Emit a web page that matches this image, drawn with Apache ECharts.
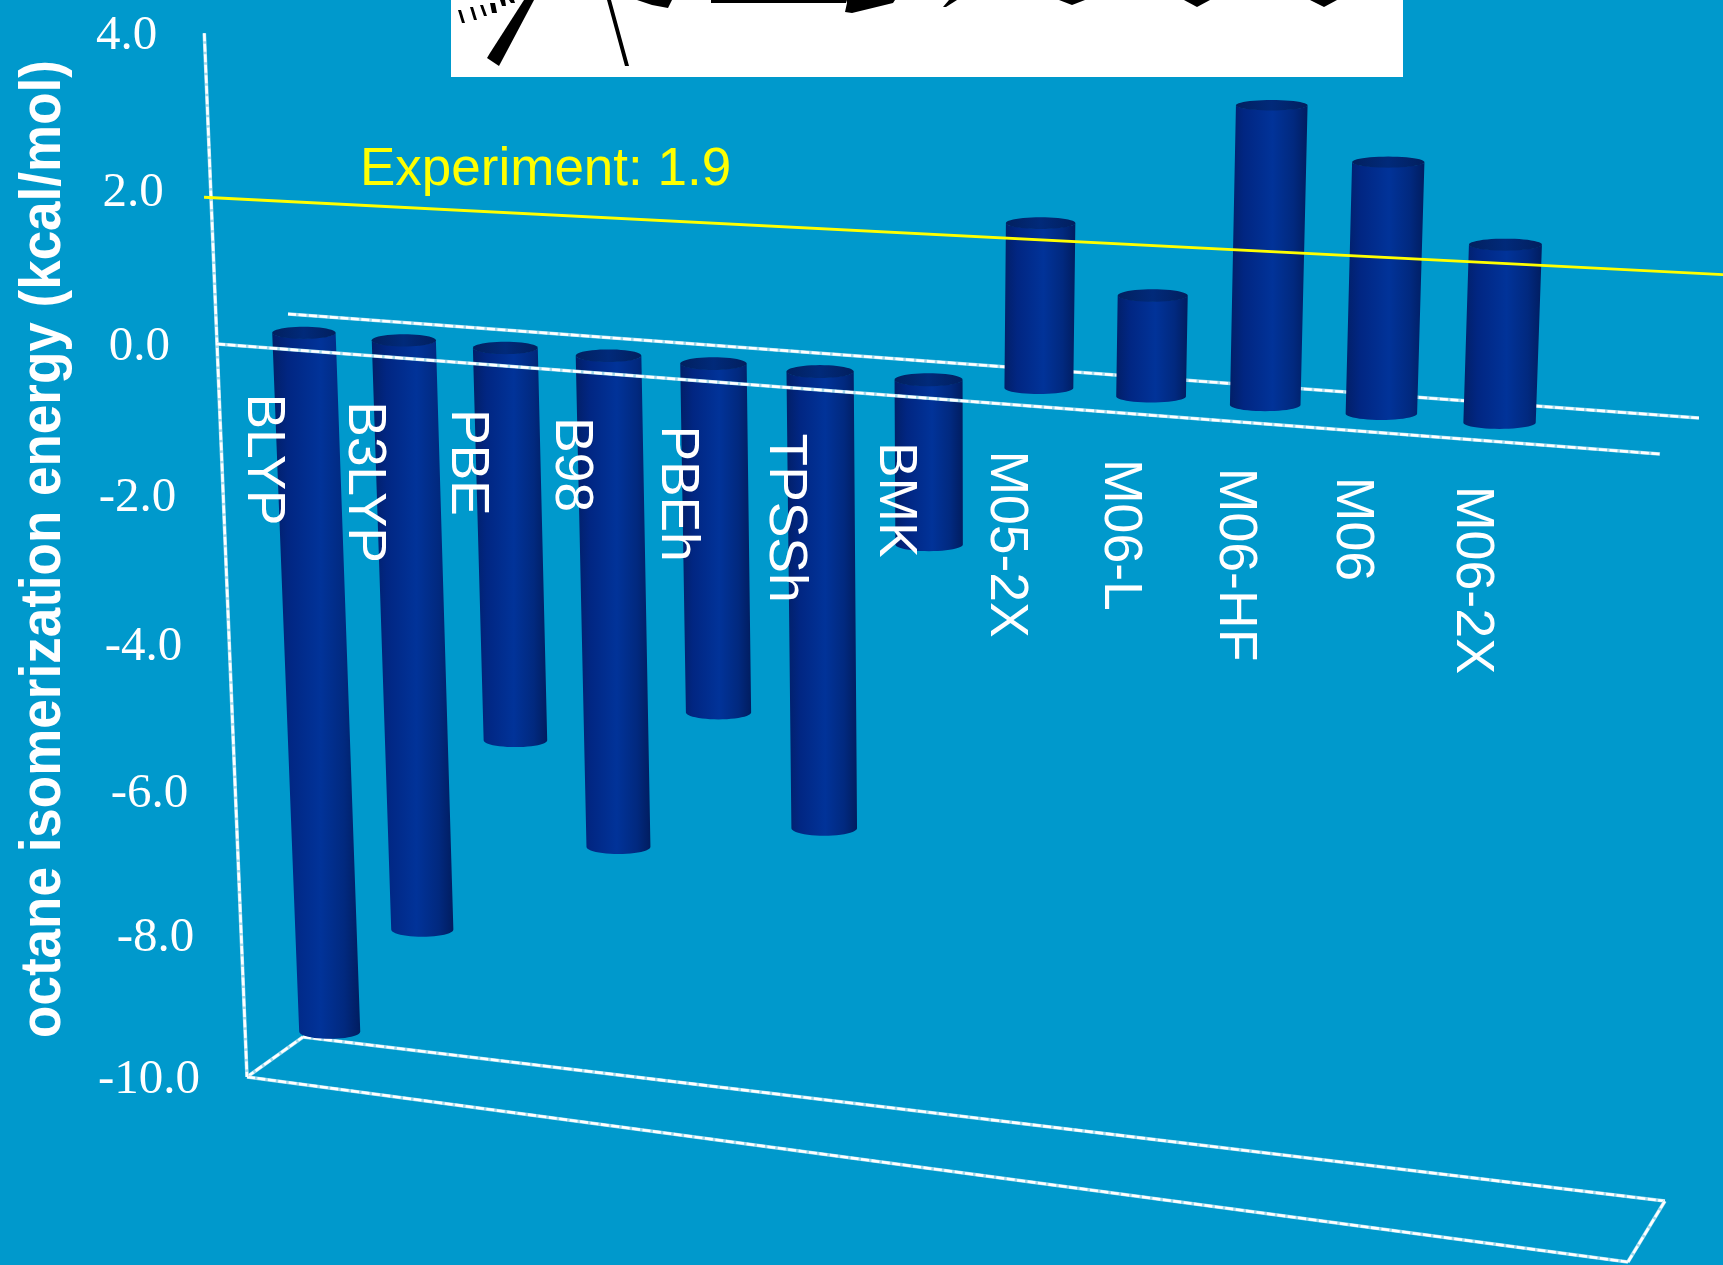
<!DOCTYPE html>
<html><head><meta charset="utf-8">
<style>html,body{margin:0;padding:0;background:#0099cc}#c{width:1723px;height:1265px}</style>
<script src="https://cdn.jsdelivr.net/npm/echarts@6/dist/echarts.min.js"></script>
</head><body><div id="c"></div>
<script>
// ---- data ----
const methods = ['BLYP','B3LYP','PBE','B98','PBEh','TPSSh','BMK','M05-2X','M06-L','M06-HF','M06','M06-2X'];
const energies = [-9.55,-7.95,-5.2,-6.5,-4.55,-5.95,-2.1,2.05,1.25,3.65,3.05,2.15];
const yTicks = [4,2,0,-2,-4,-6,-8,-10];
const experimentValue = 1.9;
const experimentLabel = 'Experiment: 1.9';
const yTitle = 'octane isomerization energy (kcal/mol)';

// ---- view: the projection of the flat axes into the picture's 3D box ----
const X_MIN=-1, X_MAX=13, V_MIN=-10, V_MAX=4;
const I_LEFT=-0.52, I_RIGHT=12.49;
const box={ zf:[[217,344],[1659,454]], zb:[[288,314],[1698,418]], ff:[[247,1077],[1627,1262]], fb:[[303,1037],[1664,1201]] };
const warpT=i=>(0.0692*i+0.036)/(1-0.00803*i);
const warpS=v=>-0.1042*v/(1-0.00421*v);
const lerp=(a,b,t)=>a+(b-a)*t;
function projector(params,api){
  const cs=params.coordSys;
  return function(i,v,w){
    const p=api.coord([i,v]);
    const ii=X_MIN+(p[0]-cs.x)/cs.width*(X_MAX-X_MIN);
    const vv=V_MAX-(p[1]-cs.y)/cs.height*(V_MAX-V_MIN);
    const t=warpT(ii), s=warpS(vv);
    const edge=(e)=>[lerp(box[e][0][0],box[e][1][0],t),lerp(box[e][0][1],box[e][1][1],t)];
    const zf=edge('zf'),zb=edge('zb'),ff=edge('ff'),fb=edge('fb');
    const top=[lerp(zf[0],zb[0],w),lerp(zf[1],zb[1],w)];
    const bot=[lerp(ff[0],fb[0],w),lerp(ff[1],fb[1],w)];
    return [lerp(top[0],bot[0],s),lerp(top[1],bot[1],s)];
  };
}
function frameRenderer(segments){
  return function(params,api){
    if(params.dataIndex>0) return null;
    const P=projector(params,api), kids=[];
    segments.forEach(sg=>{
      const pts=[P(sg[0],sg[1],sg[2]),P(sg[3],sg[4],sg[5])];
      kids.push({type:'polyline',shape:{points:pts},style:{fill:null,stroke:'#a6dcee',lineWidth:3.6}});
      kids.push({type:'polyline',shape:{points:pts},style:{fill:null,stroke:'#ffffff',lineWidth:2.6,lineDash:[8,2.5]}});
    });
    return {type:'group',children:kids};
  };
}
const framePoints=[[0,0]];
const backFrame=[
  [I_LEFT,0,1,I_RIGHT,0,1],
  [I_LEFT,V_MIN,1,I_RIGHT,V_MIN,1],
  [I_LEFT,V_MIN,0,I_LEFT,V_MIN,1],
  [I_LEFT,V_MIN,0,I_RIGHT,V_MIN,0],
  [I_RIGHT,V_MIN,0,I_RIGHT,V_MIN,1],
  [I_LEFT,V_MAX,0,I_LEFT,V_MIN,0]
];
const frontFrame=[[I_LEFT,0,0,I_RIGHT,0,0]];

const CW=0.5, WR=0.18, WR_CAP=0.2;
function bodyFill(){
  return new echarts.graphic.LinearGradient(0,0,1,0,[
    {offset:0,color:'#021f68'},{offset:.18,color:'#012682'},{offset:.55,color:'#013399'},
    {offset:.82,color:'#01297f'},{offset:1,color:'#011d60'}]);
}
function capFill(){
  return new echarts.graphic.LinearGradient(0,0,1,0,[
    {offset:0,color:'#02205f'},{offset:.5,color:'#012a7a'},{offset:1,color:'#021f5e'}]);
}
function renderBar(params,api){
  const P0=projector(params,api), i=api.value(0), v=api.value(1);
  const HALF=0.32-0.0015*i;
  // a level round section: width runs along the axis, depth only moves the point vertically
  const P=(da,b,c)=>{
    const x=P0(i+da,b,CW)[0], y0=P0(i,b,CW)[1], y1=P0(i,b,c)[1];
    return [x+(b<0?-b*0.65:0),y1];
  };
  const vt=Math.max(v,0), vb=Math.min(v,0), n=24, body=[], cap=[];
  for(let k=0;k<=n;k++){const a=Math.PI*k/n; body.push(P(-HALF*Math.cos(a),vb,CW-WR*Math.sin(a)));}
  for(let k=0;k<=n;k++){const a=Math.PI*k/n; body.push(P(HALF*Math.cos(a),vt,CW-WR*Math.sin(a)));}
  for(let k=0;k<2*n;k++){const a=Math.PI*k/n; cap.push(P(HALF*Math.cos(a),vt,CW+WR_CAP*Math.sin(a)));}
  return {type:'group',children:[
    {type:'polygon',shape:{points:body},style:{fill:bodyFill()}},
    {type:'polygon',shape:{points:cap},style:{fill:capFill()}}
  ]};
}
function renderCategory(params,api){
  const P=projector(params,api), i=api.value(0), p=P(i,0,CW);
  return {type:'text',x:p[0]-41+1.2*i,y:p[1]+61+0.2*i,rotation:-Math.PI/2,
    style:{text:methods[i],fill:'#ffffff',font:'400 '+(53+0.07*i)+'px "Liberation Sans"',align:'left',verticalAlign:'middle'}};
}
function renderTick(params,api){
  const P=projector(params,api), v=api.value(1), p=P(I_LEFT,v,0);
  return {type:'text',x:p[0]-47,y:p[1]+3,
    style:{text:v.toFixed(1),fill:'#ffffff',font:'400 49px "Liberation Serif"',align:'right',verticalAlign:'middle'}};
}
function renderExperiment(params,api){
  const P=projector(params,api), v=api.value(1);
  return {type:'polyline',shape:{points:[P(I_LEFT-0.07,v,0),P(12.95,v,0.66)]},
    style:{fill:null,stroke:'#ffff00',lineWidth:2.8}};
}
const moleculeBits=[
 [[451,0],[1403,0],[1403,77],[451,77]]
];
const moleculeInk=[
 [[458,10],[461,10],[465,23],[462,23]],[[470,7],[473,7],[477,20],[474,20]],[[480,5],[483,5],[487,16],[484,16]],
 [[490,3],[495,3],[497,13],[492,13]],[[500,0],[505,0],[506,6],[502,6]],[[509,0],[514,0],[515,3],[511,3]],
 [[524,0],[534,0],[499,66],[487,58],[490,53]],
 [[607,0],[611,0],[629,66],[625,66]],
 [[637,0],[672,0],[668,8],[652,5]],
 [[711,0],[846,0],[846,3],[711,3]],
 [[846,0],[895,0],[893,3],[852,13],[845,12],[847,3]],
 [[943,7],[949,0],[957,0],[946,7]],
 [[1059,0],[1085,0],[1072,5]],[[1184,0],[1210,0],[1197,7]],[[1310,0],[1337,0],[1324,7]]
];
const chart=echarts.init(document.getElementById('c'),null,{renderer:'canvas'});
const custom=(name,data,fn,z)=>({type:'custom',name,data,renderItem:fn,z,silent:true,animation:false,clip:false,encode:{x:0,y:1}});
chart.setOption({
  backgroundColor:'#0099cc',
  animation:false,
  grid:{left:80,right:80,top:60,height:978,containLabel:false},
  xAxis:{type:'value',min:X_MIN,max:X_MAX,show:false},
  yAxis:{type:'value',min:V_MIN,max:V_MAX,interval:2,show:false},
  graphic:{elements:[
    ...moleculeBits.map(p=>({type:'polygon',z:1,shape:{points:p},style:{fill:'#ffffff'}})),
    ...moleculeInk.map(p=>({type:'polygon',z:2,shape:{points:p},style:{fill:'#000000'}})),
    {type:'text',z:20,x:360,y:170,style:{text:experimentLabel,fill:'#ffff00',font:'400 53px "Liberation Sans"',align:'left',verticalAlign:'middle'}},
    {type:'text',z:20,x:44,y:549,rotation:Math.PI/2,scaleY:1.1,style:{text:yTitle,fill:'#ffffff',font:'700 53px "Liberation Sans"',align:'center',verticalAlign:'middle'}}
  ]},
  series:[
    custom('frame back',framePoints,frameRenderer(backFrame),3),
    custom('energy',methods.map((m,i)=>[i,energies[i]]),renderBar,5),
    custom('frame front',framePoints,frameRenderer(frontFrame),6),
    custom('experiment',[[0,experimentValue]],renderExperiment,7),
    custom('ticks',yTicks.map(v=>[0,v]),renderTick,8),
    custom('methods',methods.map((m,i)=>[i,0]),renderCategory,9)
  ]
});
</script></body></html>
